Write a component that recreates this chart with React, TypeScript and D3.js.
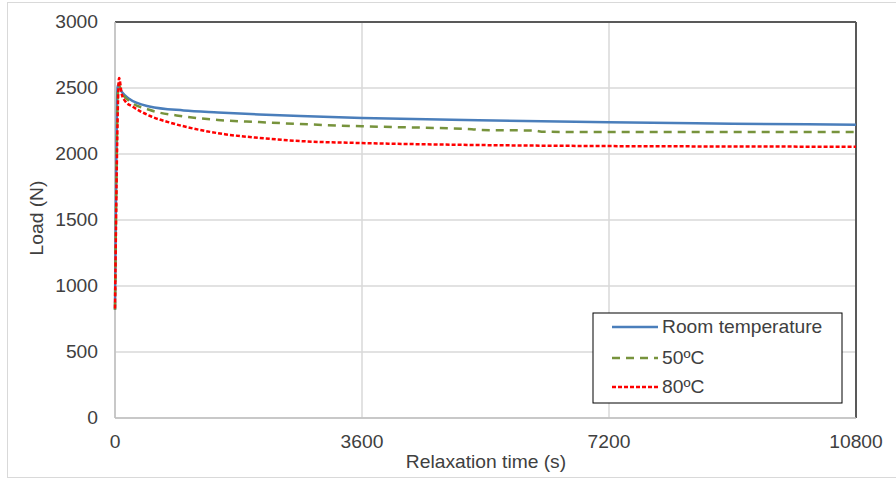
import React from "react";
import * as d3 from "d3";

const roomTime = [0, 40, 100, 200, 500, 1000, 1500, 2100, 2700, 3600, 5300, 7200, 9000, 10800];
const roomLoad = [820, 2520, 2470, 2420, 2360, 2330, 2315, 2300, 2288, 2273, 2255, 2240, 2230, 2222];

const c50Time = [0, 50, 100, 200, 500, 1000, 1500, 2100, 2700, 3600, 4150, 5200, 5350, 6100, 6250, 7200, 9000, 10800];
const c50Load = [820, 2530, 2465, 2405, 2335, 2285, 2258, 2242, 2227, 2210, 2203, 2188, 2181, 2178, 2168, 2167, 2167, 2167];

const c80Time = [0, 60, 100, 150, 260, 500, 800, 1240, 1600, 2100, 2700, 3600, 5000, 7200, 9000, 10800];
const c80Load = [830, 2575, 2450, 2400, 2358, 2290, 2238, 2182, 2150, 2122, 2098, 2083, 2070, 2060, 2057, 2055];

const xTicks = [0, 3600, 7200, 10800];
const yTicks = [0, 500, 1000, 1500, 2000, 2500, 3000];
const seriesNames = ["Room temperature", "50ºC", "80ºC"];

const W = 896, H = 480;
const L = 115, R = 856, T = 22, B = 418;
const FONT = "'Liberation Sans', Arial, sans-serif";
const FS = 17.5;
const SX = 1.1;

function Txt({ x, y, anchor = "start", rotate = 0, children }: any) {
  return (
    <text
      transform={`translate(${x},${y}) rotate(${rotate}) scale(${SX},1)`}
      textAnchor={anchor}
      fontFamily={FONT}
      fontSize={FS}
      fill="#404040"
    >
      {children}
    </text>
  );
}

export default function App() {
  const x = d3.scaleLinear().domain([0, 10800]).range([L, R]);
  const y = d3.scaleLinear().domain([0, 3000]).range([B, T]);
  const line = d3
    .line<[number, number]>()
    .x((d) => x(d[0]))
    .y((d) => y(d[1]))
    .curve(d3.curveMonotoneX);

  const series = [
    { name: seriesNames[0], t: roomTime, v: roomLoad, color: "#4A7EBB", dash: undefined },
    { name: seriesNames[1], t: c50Time, v: c50Load, color: "#77933C", dash: "8,6" },
    { name: seriesNames[2], t: c80Time, v: c80Load, color: "#FF0000", dash: "4,2" },
  ];

  const legX = 593, legY = 313, legW = 249, legH = 90;
  const rowY = [327, 358, 387];

  return (
    <svg width={W} height={H} style={{ position: "absolute", left: 0, top: 0 }}>
      <rect x={0} y={0} width={W} height={H} fill="#fff" />
      <rect x={7.5} y={2.5} width={W} height={475} fill="none" stroke="#d9d9d9" />
      {yTicks.map((t) => (
        <line key={"gy" + t} x1={L} x2={R} y1={y(t)} y2={y(t)} stroke="#d9d9d9" strokeWidth={1.5} />
      ))}
      {xTicks.map((t) => (
        <line key={"gx" + t} x1={x(t)} x2={x(t)} y1={T} y2={B} stroke="#d9d9d9" strokeWidth={1.5} />
      ))}
      <line x1={L} x2={R} y1={T} y2={T} stroke="#595959" strokeWidth={2} />
      <line x1={R} x2={R} y1={T} y2={B} stroke="#595959" strokeWidth={2} />
      <line x1={L} x2={L} y1={T} y2={B} stroke="#bfbfbf" strokeWidth={1.5} />
      <line x1={L} x2={R} y1={B} y2={B} stroke="#bfbfbf" strokeWidth={1.5} />
      {series.map((s) => (
        <path
          key={s.name}
          d={line(s.t.map((t, i) => [t, s.v[i]] as [number, number])) || ""}
          fill="none"
          stroke={s.color}
          strokeWidth={2.5}
          strokeDasharray={s.dash}
        />
      ))}
      {yTicks.map((t) => (
        <Txt key={"ly" + t} x={98} y={y(t) + 6} anchor="end">
          {t}
        </Txt>
      ))}
      {xTicks.map((t) => (
        <Txt key={"lx" + t} x={x(t)} y={448} anchor="middle">
          {t}
        </Txt>
      ))}
      <Txt x={486} y={468} anchor="middle">Relaxation time (s)</Txt>
      <Txt x={43} y={218} anchor="middle" rotate={-90}>Load (N)</Txt>
      <rect x={legX} y={legY} width={legW} height={legH} fill="#fff" stroke="#000" strokeWidth={1} />
      {series.map((s, i) => (
        <g key={"leg" + i}>
          <line x1={612} x2={658} y1={rowY[i]} y2={rowY[i]} stroke={s.color} strokeWidth={2.5} strokeDasharray={s.dash} />
          <Txt x={662} y={rowY[i] + 6}>{s.name}</Txt>
        </g>
      ))}
    </svg>
  );
}
